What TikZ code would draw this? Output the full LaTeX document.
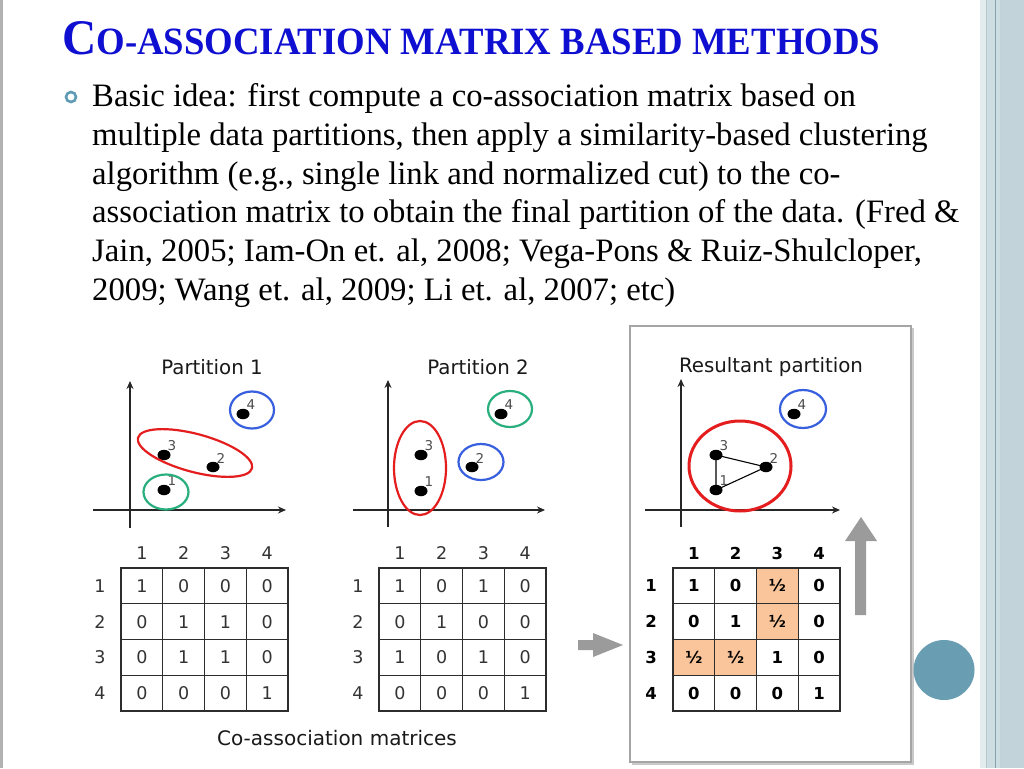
\documentclass[tikz,border=0pt]{standalone}
\usepackage{graphicx}
\usepackage{fontspec}
\setmainfont{Liberation Serif}
\newfontfamily\djsans{DejaVu Sans}
\usetikzlibrary{arrows.meta,shapes.geometric,calc}
\definecolor{titleblue}{RGB}{15,15,210}
\definecolor{bulletc}{RGB}{95,155,180}
\definecolor{cellorange}{RGB}{250,197,154}
\definecolor{arrowgrey}{RGB}{155,155,155}
\definecolor{gridc}{RGB}{45,45,45}
\definecolor{cgreen}{RGB}{40,175,125}
\definecolor{cred}{RGB}{228,30,30}
\definecolor{cblue}{RGB}{55,95,222}
\definecolor{discc}{RGB}{105,157,178}
\definecolor{boxgrey}{RGB}{165,165,165}
\definecolor{stripeA}{RGB}{226,235,238}
\definecolor{stripeB}{RGB}{205,221,226}
\definecolor{stripeC}{RGB}{194,212,218}
\definecolor{stripeL}{RGB}{130,163,174}
\begin{document}
\begin{tikzpicture}[x=1pt,y=-1pt,
  body/.style={anchor=base west,inner sep=0pt,font=\fontsize{32.7}{32.7}\selectfont,text=black},
  ptitle/.style={inner sep=0pt,font=\djsans\fontsize{19.8}{19.8}\selectfont,text=black!90},
  axisline/.style={draw=black!85,line width=1.3pt,-{Stealth[length=8pt,width=7pt]}},
  dotn/.style={ellipse,fill=black,minimum width=13pt,minimum height=10.5pt,inner sep=0pt},
  lbl/.style={inner sep=0pt,font=\djsans\fontsize{13.5}{13.5}\selectfont,text=black!70},
  grp/.style={line width=2.2pt},
  cell/.style={draw=gridc,line width=1.2pt,minimum width=41.75pt,minimum height=35.75pt,inner sep=0pt,font=\djsans\fontsize{17.5}{17.5}\selectfont,text=black!80},
  bcell/.style={cell,font=\djsans\bfseries\fontsize{16.5}{16.5}\selectfont,text=black},
  hdr/.style={inner sep=0pt,font=\djsans\fontsize{17.5}{17.5}\selectfont,text=black!80},
  bhdr/.style={inner sep=0pt,font=\djsans\bfseries\fontsize{16.5}{16.5}\selectfont,text=black},
  bigarrow/.style={fill=arrowgrey,draw=none}
]
\useasboundingbox (0,0) rectangle (1024,768);
\fill[white] (0,0) rectangle (1024,768);
% left edge and right stripes
\fill[black!30] (0,0) rectangle (3,768);
\fill[stripeB] (980,0) rectangle (1024,768);
\fill[stripeA] (980,0) rectangle (986,768);
\fill[stripeC] (1000,0) rectangle (1024,768);
\draw[stripeL!60,line width=0.8pt] (986.5,0) -- (986.5,768);
\draw[stripeL,line width=1pt] (995.5,0) -- (995.5,768);
\draw[stripeL!50,line width=0.8pt] (1000.5,0) -- (1000.5,768);

% title
\node[anchor=base west,inner sep=0pt,text=titleblue] (title) at (62,55)
  {\resizebox{818pt}{33pt}{\bfseries\fontsize{40}{40}\selectfont C\fontsize{31}{31}\selectfont O-ASSOCIATION MATRIX BASED METHODS}};

% bullet
\draw[bulletc,line width=2.6pt] (71,97) circle[radius=5pt];
\node[body] (t1) at (92,106) {Basic idea: first compute a co-association matrix based on};
\node[body] (t2) at (92,145) {multiple data partitions, then apply a similarity-based clustering};
\node[body] (t3) at (92,184) {algorithm (e.g., single link and normalized cut) to the co-};
\node[body] (t4) at (92,222) {association matrix to obtain the final partition of the data. (Fred \&};
\node[body] (t5) at (92,261) {Jain, 2005; Iam-On et. al, 2008; Vega-Pons \& Ruiz-Shulcloper,};
\node[body] (t6) at (92,300) {2009; Wang et. al, 2009; Li et. al, 2007; etc)};

% resultant box
\draw[boxgrey!60,line width=2pt] (632,764) -- (913,764) -- (913,328);
\draw[boxgrey,line width=1.4pt] (630,326) rectangle (911,762);

% ---------- Partition 1 ----------
\node[ptitle] (pt1) at (212,367) {Partition 1};
\draw[axisline] (93,510) -- (286,510);
\draw[axisline] (130,528) -- (130,381);
\node[dotn] (a1) at (164,490) {};
\node[dotn] (a3) at (164,455) {};
\node[dotn] (a2) at (213,467) {};
\node[dotn] (a4) at (243,414) {};
\node[lbl] (la1) at (172,481) {1};
\node[lbl] (la3) at (172,446) {3};
\node[lbl] (la2) at (221,458) {2};
\node[lbl] (la4) at (251,405) {4};
\draw[grp,cgreen] (166,492) ellipse[x radius=22.5pt,y radius=17.5pt];
\draw[grp,cred,rotate around={-15:(195,453)}] (195,453) ellipse[x radius=59pt,y radius=19pt];
\draw[grp,cblue] (252,410) ellipse[x radius=22pt,y radius=18.5pt];

% ---------- Partition 2 ----------
\node[ptitle] (pt2) at (478,367) {Partition 2};
\draw[axisline] (353,510) -- (545,510);
\draw[axisline] (388,527) -- (388,380);
\node[dotn] (b1) at (421,491) {};
\node[dotn] (b3) at (421,455) {};
\node[dotn] (b2) at (472,467) {};
\node[dotn] (b4) at (501,414) {};
\node[lbl] (lb1) at (429,482) {1};
\node[lbl] (lb3) at (429,446) {3};
\node[lbl] (lb2) at (480,458) {2};
\node[lbl] (lb4) at (509,405) {4};
\draw[grp,cred] (420,468) ellipse[x radius=26pt,y radius=47pt];
\draw[grp,cblue] (481,462) ellipse[x radius=22.5pt,y radius=18pt];
\draw[grp,cgreen] (510,409) ellipse[x radius=22pt,y radius=18pt];

% ---------- Resultant ----------
\node[ptitle] (pt3) at (771,367) {Resultant partition};
\draw[axisline] (645,510) -- (840,510);
\draw[axisline] (681,527) -- (681,379);
\node[dotn] (c1) at (716,490) {};
\node[dotn] (c3) at (716,455) {};
\node[dotn] (c2) at (766,467) {};
\node[dotn] (c4) at (794,414) {};
\draw[black,line width=1.1pt] (c1.center) -- (c3.center) -- (c2.center) -- (c1.center);
\node[lbl] (lc1) at (724,481) {1};
\node[lbl] (lc3) at (724,446) {3};
\node[lbl] (lc2) at (774,458) {2};
\node[lbl] (lc4) at (802,405) {4};
\draw[cred,line width=3pt] (740,466) ellipse[x radius=51pt,y radius=45pt];
\draw[grp,cblue] (803,409) ellipse[x radius=23pt,y radius=19pt];

% ---------- Matrices ----------
\foreach \i in {1,...,4}{
  \node[hdr] (mah\i) at ({121+41.75*(\i-0.5)},553) {\i};
  \node[hdr] (mar\i) at (100,{568+35.75*(\i-0.5)}) {\i};
  \node[hdr] (mbh\i) at ({379+41.75*(\i-0.5)},553) {\i};
  \node[hdr] (mbr\i) at (358,{568+35.75*(\i-0.5)}) {\i};
  \node[bhdr] (mch\i) at ({673+41.75*(\i-0.5)},553) {\i};
  \node[bhdr] (mcr\i) at (651,{568+35.75*(\i-0.5)}) {\i};
}
\foreach \v [count=\k from 0] in {1,0,0,0,0,1,1,0,0,1,1,0,0,0,0,1}{
  \pgfmathtruncatemacro\r{div(\k,4)}
  \pgfmathtruncatemacro\c{mod(\k,4)}
  \node[cell] (ma-\r-\c) at ({121+41.75*(\c+0.5)},{568+35.75*(\r+0.5)}) {\v};
}
\foreach \v [count=\k from 0] in {1,0,1,0,0,1,0,0,1,0,1,0,0,0,0,1}{
  \pgfmathtruncatemacro\r{div(\k,4)}
  \pgfmathtruncatemacro\c{mod(\k,4)}
  \node[cell] (mb-\r-\c) at ({379+41.75*(\c+0.5)},{568+35.75*(\r+0.5)}) {\v};
}
\foreach \v/\f [count=\k from 0] in {1/white,0/white,½/cellorange,0/white,0/white,1/white,½/cellorange,0/white,½/cellorange,½/cellorange,1/white,0/white,0/white,0/white,0/white,1/white}{
  \pgfmathtruncatemacro\r{div(\k,4)}
  \pgfmathtruncatemacro\c{mod(\k,4)}
  \node[bcell,fill=\f] (mc-\r-\c) at ({673+41.75*(\c+0.5)},{568+35.75*(\r+0.5)}) {\v};
}
\node[inner sep=0pt,font=\djsans\fontsize{20}{20}\selectfont,text=black!90] (cap) at (337,738) {Co-association matrices};

% big grey arrows
\fill[bigarrow] (578,640) -- (593,640) -- (593,633) -- (623,645) -- (593,657) -- (593,650) -- (578,650) -- cycle;
\fill[bigarrow] (855,615) -- (855,541) -- (845,541) -- (861,517) -- (877,541) -- (866,541) -- (866,615) -- cycle;

% decorative disc
\fill[discc] (944,670) ellipse[x radius=30.5pt,y radius=30pt];
\end{tikzpicture}
\end{document}
